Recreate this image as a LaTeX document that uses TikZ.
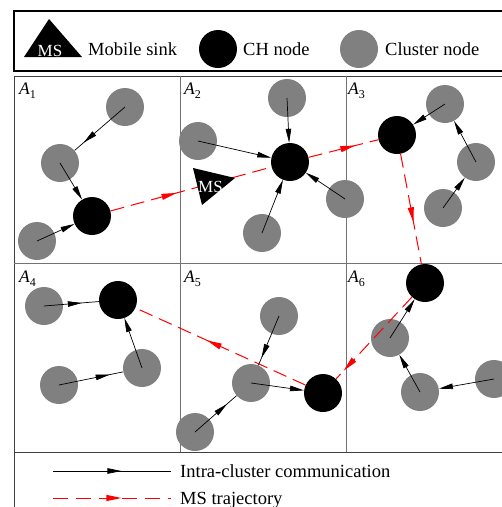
\documentclass[tikz,border=0pt]{standalone}
\usepackage{fontspec}
\setmainfont{Liberation Serif}
\usetikzlibrary{arrows.meta,decorations.markings}
\begin{document}
\begin{tikzpicture}[x=1pt,y=-1pt,
  gnode/.style={circle,fill=gray,minimum size=38pt,inner sep=0pt},
  bnode/.style={circle,fill=black,minimum size=38pt,inner sep=0pt},
  ic/.style={black,line width=0.7pt,-{Triangle[length=14pt,width=5.5pt]}},
  icm/.style={black,line width=0.7pt,postaction={decorate},decoration={markings,mark=at position #1 with {\arrow{Triangle[length=14pt,width=5.5pt]}}}},
  icm/.default=0.6,
  traj/.style={red,line width=1pt,dash pattern=on 14pt off 7pt,postaction={decorate},decoration={markings,mark=at position #1 with {\arrow{Triangle[length=15pt,width=6pt]}}}},
  traj/.default=0.5,
  lbl/.style={font=\fontsize{18.5}{20}\selectfont,inner sep=0pt,anchor=base west},
  cell/.style={font=\fontsize{17.5}{19}\selectfont,inner sep=0pt,anchor=base west},
  mstext/.style={font=\fontsize{17}{18}\selectfont,text=white,inner sep=0pt,anchor=base},
  frame/.style={black!75,line width=0.9pt},
  gridl/.style={black!55,line width=0.7pt},
]
\useasboundingbox (0,0) rectangle (502,507);
\clip (0,0) rectangle (502,507);

% top legend
\draw[black,line width=1.2pt] (14,11) rectangle (520,71);
\fill[black] (24,57) -- (49,19) -- (82,57) -- cycle;
\node[mstext] (msl) at (50,56) {MS};
\node[lbl] (tms) at (88,55) {Mobile sink};
\node[bnode] (lch) at (218,49) {};
\node[lbl] (tch) at (243,55) {CH node};
\node[gnode] (lcl) at (359,49) {};
\node[lbl] (tcl) at (385,55) {Cluster node};

% frame and grid
\draw[frame] (14,507) -- (14,76) -- (520,76);
\draw[frame] (14,452) -- (520,452);
\draw[gridl] (180,76) -- (180,452) (346,76) -- (346,452) (14,263) -- (520,263);

% cell labels
\node[cell] (la1) at (19,94) {\textit{A}\raisebox{-4pt}{\fontsize{12}{13}\selectfont 1}};
\node[cell] (la2) at (184,94) {\textit{A}\raisebox{-4pt}{\fontsize{12}{13}\selectfont 2}};
\node[cell] (la3) at (348,94) {\textit{A}\raisebox{-4pt}{\fontsize{12}{13}\selectfont 3}};
\node[cell] (la4) at (19,282) {\textit{A}\raisebox{-4pt}{\fontsize{12}{13}\selectfont 4}};
\node[cell] (la5) at (184,282) {\textit{A}\raisebox{-4pt}{\fontsize{12}{13}\selectfont 5}};
\node[cell] (la6) at (348,282) {\textit{A}\raisebox{-4pt}{\fontsize{12}{13}\selectfont 6}};

% A1
\node[gnode] (a1g1) at (125,107) {};
\node[gnode] (a1g2) at (60,163) {};
\node[bnode] (a1ch) at (92,216) {};
\node[gnode] (a1g3) at (37,241) {};
% A2
\node[gnode] (a2g1) at (198,141) {};
\node[gnode] (a2g2) at (287,98) {};
\node[bnode] (a2ch) at (290,162) {};
\node[gnode] (a2g3) at (345,199) {};
\node[gnode] (a2g4) at (262,233) {};
% A3
\node[bnode] (a3ch) at (397,135) {};
\node[gnode] (a3g1) at (445,104) {};
\node[gnode] (a3g2) at (476,162) {};
\node[gnode] (a3g3) at (443,208) {};
% A4
\node[bnode] (a4ch) at (118,300) {};
\node[gnode] (a4g1) at (44,306) {};
\node[gnode] (a4g2) at (142,368) {};
\node[gnode] (a4g3) at (59,385) {};
% A5
\node[gnode] (a5g1) at (279,316) {};
\node[gnode] (a5g2) at (251,383) {};
\node[bnode] (a5ch) at (323,393) {};
\node[gnode] (a5g3) at (195,432) {};
% A6
\node[bnode] (a6ch) at (425,283) {};
\node[gnode] (a6g1) at (390,338) {};
\node[gnode] (a6g2) at (420,392) {};
\node[gnode] (a6g3) at (494,379) {};

% MS trajectory
\draw[traj=0.41] (a1ch) -- (a2ch);
\draw[traj=0.67] (a2ch) -- (a3ch);
\draw[traj=0.62] (a3ch) -- (a6ch);
\draw[traj=0.9] (a6ch) -- (a5ch);
\draw[traj=0.58] (a5ch) -- (a4ch);

% mobile sink
\fill[black] (193,168) -- (235,178) -- (202,205) -- cycle;
\node[mstext] (ms) at (210.5,192) {MS};

% intra-cluster communication
\draw[icm=0.82] (a1g1.center) -- (a1g2);
\draw[ic] (a1g2.center) -- (a1ch);
\draw[ic] (a1g3.center) -- (a1ch);
\draw[ic] (a2g1.center) -- (a2ch);
\draw[ic] (a2g2.center) -- (a2ch);
\draw[ic] (a2g3.center) -- (a2ch);
\draw[ic] (a2g4.center) -- (a2ch);
\draw[ic] (a3g1.center) -- (a3ch);
\draw[ic] (a3g2.center) -- (a3g1);
\draw[ic] (a3g3.center) -- (a3g2);
\draw[icm=0.69] (a4g1.center) -- (a4ch);
\draw[ic] (a4g2.center) -- (a4ch);
\draw[icm=0.79] (a4g3.center) -- (a4g2);
\draw[icm=0.85] (a5g1.center) -- (a5g2);
\draw[ic] (a5g2.center) -- (a5ch);
\draw[icm=0.77] (a5g3.center) -- (a5g2);
\draw[ic] (a6g1.center) -- (a6ch);
\draw[ic] (a6g2.center) -- (a6g1);
\draw[ic] (a6g3.center) -- (a6g2);

% bottom legend
\coordinate (l1a) at (53,471);
\coordinate (l1b) at (171,471);
\draw[icm=0.58] (l1a) -- (l1b);
\node[lbl] (t1) at (180,477.5) {Intra-cluster communication};
\coordinate (l2a) at (53,498);
\coordinate (l2b) at (171,498);
\draw[traj=0.58,dash pattern=on 15pt off 8pt] (l2a) -- (l2b);
\node[lbl] (t2) at (180,504) {MS trajectory};
\end{tikzpicture}
\end{document}
